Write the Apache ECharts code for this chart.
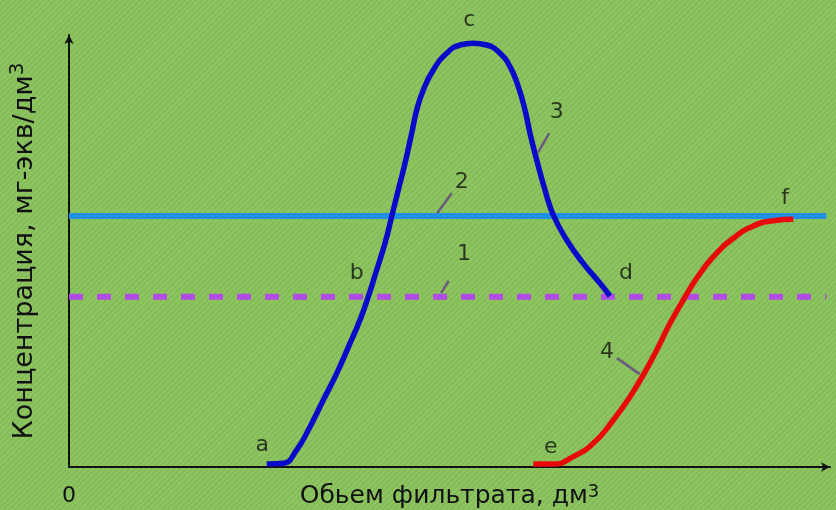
<!DOCTYPE html>
<html>
<head>
<meta charset="utf-8">
<script src="https://cdn.jsdelivr.net/npm/echarts@6/dist/echarts.min.js"></script>
<style>
  html, body { margin: 0; padding: 0; }
  body {
    background: repeating-linear-gradient(135deg, #8dc561 0px, #8dc561 2px, #85bc59 2px, #85bc59 4px);
  }
  #main { width: 836px; height: 510px; }
</style>
</head>
<body>
<div id="main"></div>
<script>
// curve 3 (a - b - c - d)
var curve3 = [
  [25.98, 0.69], [28.16, 0.85], [29.92, 3.94], [31.67, 9.33], [33.42, 15.51],
  [35.18, 21.68], [36.92, 28.62], [38.24, 34.03], [39.33, 39.42], [40.43, 45.60],
  [41.52, 51.78], [42.40, 57.94], [43.27, 64.12], [44.15, 70.30], [45.03, 77.24],
  [45.69, 82.64], [46.56, 87.27], [47.87, 91.90], [49.63, 95.76], [51.38, 97.69],
  [53.13, 98.08], [54.89, 97.69], [56.64, 95.76], [57.95, 92.67], [59.04, 88.04],
  [59.92, 82.64], [60.58, 77.24], [61.46, 71.06], [62.55, 64.12], [63.64, 58.33],
  [65.40, 52.55], [67.58, 47.15], [69.78, 42.52], [71.09, 39.58]
];
// curve 4 (e - f)
var curve4 = [
  [61.01, 0.69], [63.64, 0.69], [66.27, 2.39], [68.90, 5.48], [71.53, 10.88],
  [73.72, 16.28], [75.47, 21.30], [77.23, 27.08], [78.98, 33.26], [80.72, 38.66],
  [82.48, 43.68], [84.67, 48.68], [87.29, 52.94], [89.92, 55.79], [92.55, 57.02],
  [95.18, 57.34]
];
// horizontal levels
var level2 = [[0, 58.1], [99.5, 58.1]];
var level1 = [[0, 39.4], [99.5, 39.4]];
// point / curve labels
var pointLabels = [
  ['a', 25.4, 5.1], ['b', 37.8, 44.9], ['c', 52.6, 103.5], ['d', 73.2, 44.9],
  ['e', 63.3, 4.6], ['f', 94.1, 62.3],
  ['1', 51.9, 49.3], ['2', 51.6, 66.0], ['3', 64.1, 82.2], ['4', 70.7, 26.6]
];
// leader lines for 1..4
var leaders = [
  [[48.9, 40.3], [49.9, 43.1]],
  [[48.4, 58.8], [50.3, 63.4]],
  [[61.6, 72.7], [63.1, 77.3]],
  [[72.0, 25.2], [75.0, 21.5]]
];

var chart = echarts.init(document.getElementById('main'));
var font = 'DejaVu Sans';

var series = [
  {
    type: 'line', data: level1, symbol: 'none', z: 2,
    lineStyle: { color: '#b04be4', width: 6, type: [14, 14] }
  },
  {
    type: 'line', data: level2, symbol: 'none', z: 3,
    lineStyle: { color: '#1e90e6', width: 6 }
  },
  {
    type: 'line', data: curve3, symbol: 'none', smooth: 0.5, z: 4,
    lineStyle: { color: '#0a0ac8', width: 5.5 }
  },
  {
    type: 'line', data: curve4, symbol: 'none', smooth: 0.5, z: 4,
    lineStyle: { color: '#e80a0a', width: 5.5 }
  },
  {
    type: 'scatter', symbolSize: 0, clip: false, z: 6,
    data: pointLabels.map(function (p) { return { name: p[0], value: [p[1], p[2]] }; }),
    label: {
      show: true, position: 'inside', formatter: '{b}',
      color: '#111', fontFamily: font, fontSize: 22
    }
  }
];
leaders.forEach(function (seg) {
  series.push({
    type: 'line', data: seg, symbol: 'none', z: 5,
    lineStyle: { color: '#6a5a7c', width: 2.5 }
  });
});

var option = {
  backgroundColor: 'transparent',
  animation: false,
  grid: { left: 69, right: 6, top: 35, bottom: 43, outerBoundsMode: 'none', containLabel: false },
  xAxis: {
    type: 'value', min: 0, max: 100, interval: 100,
    splitLine: { show: false },
    axisTick: { show: false },
    axisLine: { lineStyle: { color: '#111', width: 2 }, symbol: ['none', 'arrow'], symbolSize: [7, 9] },
    axisLabel: {
      color: '#111', fontFamily: font, fontSize: 22, margin: 18,
      formatter: function (v) { return v === 0 ? '0' : ''; }
    },
    name: 'Обьем фильтрата, дм{s|3}',
    nameLocation: 'middle', nameGap: 16, nameMoveOverlap: false,
    nameTextStyle: {
      color: '#111', fontFamily: font, fontSize: 25,
      rich: { s: { fontSize: 18, color: '#111', fontFamily: font, padding: [0, 0, 8, 0] } }
    }
  },
  yAxis: {
    type: 'value', min: 0, max: 100,
    splitLine: { show: false },
    axisTick: { show: false },
    axisLabel: { show: false },
    axisLine: { lineStyle: { color: '#111', width: 2 }, symbol: ['none', 'arrow'], symbolSize: [7, 9] },
    name: 'Концентрация, мг-экв/дм{s|3}',
    nameLocation: 'middle', nameGap: 27, nameRotate: 90, nameMoveOverlap: false,
    nameTextStyle: {
      color: '#111', fontFamily: font, fontSize: 27,
      rich: { s: { fontSize: 20, color: '#111', fontFamily: font, padding: [0, 0, 14, 0] } }
    }
  },
  series: series
};

option && chart.setOption(option);
</script>
</body>
</html>
